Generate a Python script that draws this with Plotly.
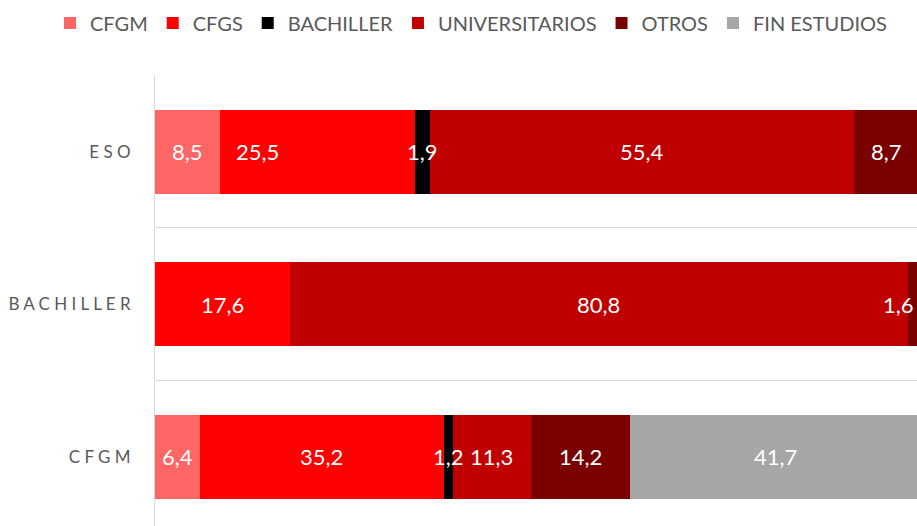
import plotly.graph_objects as go

categories = ['ESO', 'BACHILLER', 'CFGM']
series_names = ['CFGM', 'CFGS', 'BACHILLER', 'UNIVERSITARIOS', 'OTROS', 'FIN ESTUDIOS']
cfgm = [8.5, None, 6.4]
cfgs = [25.5, 17.6, 35.2]
bachiller = [1.9, None, 1.2]
universitarios = [55.4, 80.8, 11.3]
otros = [8.7, 1.6, 14.2]
fin_estudios = [None, None, 41.7]

series_values = [cfgm, cfgs, bachiller, universitarios, otros, fin_estudios]
colors = ['#FF6666', '#FF0000', '#000000', '#C00000', '#7A0000', '#A6A6A6']

# labels that Excel had nudged by hand (pixels)
label_shift = {('ESO', 'CFGS'): -60, ('BACHILLER', 'OTROS'): -15}

FONT = 'Lato'

fig = go.Figure()
for name, vals, col in zip(series_names, series_values, colors):
    fig.add_trace(go.Bar(
        y=categories, x=vals, name=name, orientation='h',
        marker=dict(color=col, line=dict(width=0)),
        width=0.55, hoverinfo='x+name',
    ))

# value labels, centred in each segment of the 100% stacked bars
annotations = []
for i, cat in enumerate(categories):
    total = sum(v[i] for v in series_values if v[i] is not None)
    cum = 0
    for name, vals in zip(series_names, series_values):
        v = vals[i]
        if v is None:
            continue
        share = v / total * 100
        annotations.append(dict(
            x=cum + share / 2, y=cat, xref='x', yref='y',
            text=f'{v:.1f}'.replace('.', ','), showarrow=False,
            xshift=label_shift.get((cat, name), 0),
            font=dict(family=FONT, size=22, color='white'),
        ))
        cum += share

fig.update_layout(
    barmode='stack', barnorm='percent',
    width=917, height=526,
    margin=dict(l=155, r=0, t=75, b=0, autoexpand=False),
    paper_bgcolor='white', plot_bgcolor='white',
    font=dict(family=FONT, color='#595959'),
    annotations=annotations,
    showlegend=True,
    legend=dict(
        orientation='h', xref='paper', yref='paper',
        x=-0.1378, xanchor='left', y=1.1153, yanchor='middle',
        font=dict(family=FONT, size=20, color='#595959'),
        itemwidth=30, traceorder='normal',
    ),
    xaxis=dict(range=[0, 99.6], showgrid=False, showticklabels=False,
               zeroline=False, showline=False, ticks=''),
    yaxis=dict(
        categoryorder='array', categoryarray=categories,
        range=[2.454, -0.503],
        tickmode='array', tickvals=categories,
        ticktext=[' '.join(c) for c in categories],
        tickson='boundaries', ticks='',
        showgrid=True, gridcolor='#D9D9D9', gridwidth=1,
        showline=True, linecolor='#D9D9D9', linewidth=1,
        tickfont=dict(family=FONT, size=17, color='#595959'),
        ticklabelstandoff=20,
    ),
)

fig.write_html('out.html', config={'displayModeBar': False},
               post_script="document.body.style.margin='0';document.body.style.overflow='hidden';")
